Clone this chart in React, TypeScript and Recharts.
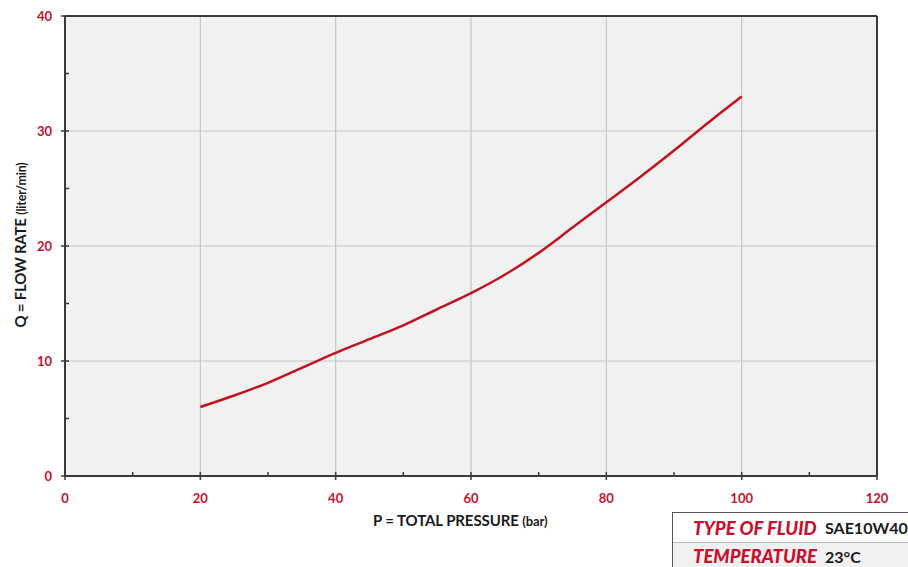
import React from "react";
import { ComposedChart, Line, XAxis, YAxis, CartesianGrid, ReferenceLine } from "recharts";

const pressure = [20, 25, 30, 35, 40, 45, 50, 55, 60, 65, 70, 75, 80, 85, 90, 95, 100];
const flowRate = [6.0, 7.0, 8.1, 9.4, 10.7, 11.9, 13.1, 14.5, 15.9, 17.5, 19.4, 21.6, 23.8, 26.0, 28.3, 30.7, 33.0];
const xTicks = [0, 10, 20, 30, 40, 50, 60, 70, 80, 90, 100, 110, 120];
const yTicks = [0, 5, 10, 15, 20, 25, 30, 35, 40];
const xTitle = "P = TOTAL PRESSURE";
const xUnit = "(bar)";
const yTitle = "Q = FLOW RATE";
const yUnit = "(liter/min)";
const infoLabels = ["TYPE OF FLUID", "TEMPERATURE"];
const infoValues = ["SAE10W40", "23°C"];

const data = pressure.map((p, i) => ({ p, q: flowRate[i] }));

const RED = "#c8102e";
const AXIS = "#3a3a3a";
const FONT = "Lato, 'Open Sans', sans-serif";

const XTick = (props: any) => {
  const { x, y, payload } = props;
  const v = payload.value;
  const major = v % 20 === 0;
  return (
    <g>
      {major ? (
        <line x1={x} x2={x} y1={y - 4} y2={y + 4} stroke={AXIS} strokeWidth={1.5} />
      ) : (
        <line x1={x} x2={x} y1={y - 4} y2={y} stroke={AXIS} strokeWidth={1.5} />
      )}
      {major && (
        <text x={x} y={y + 22} textAnchor="middle" dominantBaseline="central" fill={RED}
          fontFamily={FONT} fontWeight={700} fontSize={13}>{v}</text>
      )}
    </g>
  );
};

const YTick = (props: any) => {
  const { x, y, payload } = props;
  const v = payload.value;
  const major = v % 10 === 0;
  return (
    <g>
      {major ? (
        <line x1={x - 4} x2={x + 4} y1={y} y2={y} stroke={AXIS} strokeWidth={1.5} />
      ) : (
        <line x1={x} x2={x + 4} y1={y} y2={y} stroke={AXIS} strokeWidth={1.5} />
      )}
      {major && (
        <text x={x - 13} y={y} textAnchor="end" dominantBaseline="central" fill={RED}
          fontFamily={FONT} fontWeight={700} fontSize={13}>{v}</text>
      )}
    </g>
  );
};

export default function App() {
  return (
    <div style={{ position: "fixed", left: 0, top: 0, width: 908, height: 567, overflow: "hidden",
      background: "#fff" }}>
      <div style={{ position: "absolute", left: 8, top: 8, width: 900, height: 559 }}>
        <ComposedChart width={900} height={559} data={data}
          margin={{ top: 8, right: 31, left: 0, bottom: 59 }}>
          <CartesianGrid fill="#f1f1f1" stroke="#c6c6c6" strokeWidth={1.2}
            horizontalValues={[10, 20, 30]} verticalValues={[20, 40, 60, 80, 100]} />
          <XAxis dataKey="p" type="number" domain={[0, 120]} ticks={xTicks} interval={0}
            tickSize={0} tickMargin={0} tick={<XTick />} height={32}
            axisLine={{ stroke: AXIS, strokeWidth: 2 }} tickLine={false} />
          <YAxis type="number" domain={[0, 40]} ticks={yTicks} interval={0} width={57}
            tickSize={0} tickMargin={0} tick={<YTick />}
            axisLine={{ stroke: AXIS, strokeWidth: 2 }} tickLine={false} />
          <ReferenceLine y={40} stroke={AXIS} strokeWidth={2} />
          <ReferenceLine x={120} stroke={AXIS} strokeWidth={2} />
          <Line type="monotone" dataKey="q" stroke="#c1121f" strokeWidth={2.5} dot={false}
            isAnimationActive={false} />
        </ComposedChart>
        <div style={{ position: "absolute", left: 365, top: 503, fontFamily: FONT, fontWeight: 700,
          fontSize: 15, color: "#1a1a1a", letterSpacing: -0.1, whiteSpace: "nowrap" }}>
          {xTitle} <span style={{ fontSize: 13 }}>{xUnit}</span>
        </div>
        <div style={{ position: "absolute", left: 12, top: 237, width: 0, height: 0 }}>
          <div style={{ position: "absolute", transform: "translate(-50%, -50%) rotate(-90deg)",
            fontFamily: FONT, fontWeight: 700, fontSize: 15, color: "#1a1a1a", letterSpacing: -0.2,
            whiteSpace: "nowrap" }}>
            {yTitle} <span style={{ fontSize: 12.5 }}>{yUnit}</span>
          </div>
        </div>
        <div style={{ position: "absolute", left: 664, top: 504, width: 250, borderLeft: "1px solid #555",
          borderTop: "1px solid #555", fontFamily: FONT }}>
          {infoLabels.map((lab, i) => (
            <div key={lab} style={{ height: i === 0 ? 29 : 26, borderTop: i > 0 ? "1px solid #bbb" : "none",
              background: i > 0 ? "#f1f1f1" : "#fff", display: "flex", alignItems: "center",
              whiteSpace: "nowrap" }}>
              <span style={{ display: "inline-block", flex: "0 0 152px", paddingLeft: 20, boxSizing: "border-box",
                color: RED, fontStyle: "italic", fontWeight: 900, fontSize: 18.5, letterSpacing: 0 }}>{lab}</span>
              <span style={{ flex: "0 0 auto", color: "#1a1a1a", fontWeight: 700, fontSize: 16 }}>{infoValues[i]}</span>
            </div>
          ))}
        </div>
      </div>
    </div>
  );
}
